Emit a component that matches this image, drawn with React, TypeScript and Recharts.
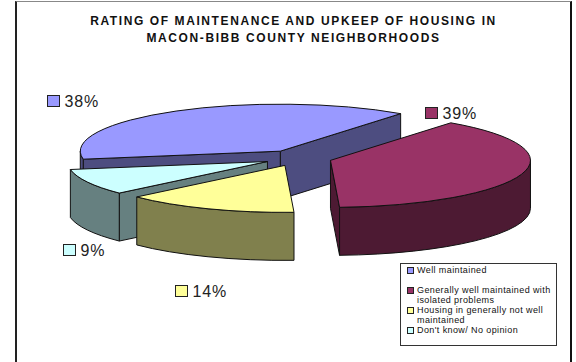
import React from 'react';
import { PieChart, Pie, Legend } from 'recharts';

// drawn back to front, so the pie runs counter-clockwise from the top-right cut
const drawOrder = ['Well maintained', "Don't know/ No opinion", 'Housing in generally not well maintained', 'Generally well maintained with isolated problems'];
const drawValues = [38, 9, 14, 39];

const legendNames = ['Well maintained', 'Generally well maintained with isolated problems', 'Housing in generally not well maintained', "Don't know/ No opinion"];

const topColors: Record<string, string> = {
  'Well maintained': '#9999ff',
  'Generally well maintained with isolated problems': '#993366',
  'Housing in generally not well maintained': '#ffff99',
  "Don't know/ No opinion": '#ccffff',
};
const sideColors: Record<string, string> = {
  'Well maintained': '#4d4d80',
  'Generally well maintained with isolated problems': '#4d1a33',
  'Housing in generally not well maintained': '#80804d',
  "Don't know/ No opinion": '#668080',
};
const labelSpots: Record<string, number[]> = {
  'Well maintained': [47.5, 95],
  'Generally well maintained with isolated problems': [425.5, 107],
  'Housing in generally not well maintained': [175.5, 285],
  "Don't know/ No opinion": [63.5, 244],
};

const FONT = '"Liberation Sans", Arial, sans-serif';
const SQUASH = 0.235;
const DEPTH = 48;
const EXPLODE = 0.17;

const Slice3D = (props: any) => {
  const { cx, cy, outerRadius: r, startAngle, endAngle, payload } = props;
  const a1 = Math.min(startAngle, endAngle);
  const a2 = Math.max(startAngle, endAngle);
  const ry = r * SQUASH;
  const mid = ((a1 + a2) / 2) * (Math.PI / 180);
  const ox = cx + r * EXPLODE * Math.cos(mid);
  const oy = cy - ry * EXPLODE * Math.sin(mid);
  const pt = (deg: number, drop = 0) => {
    const t = deg * (Math.PI / 180);
    return `${ox + r * Math.cos(t)} ${oy - ry * Math.sin(t) + drop}`;
  };
  const apex = (drop = 0) => `${ox} ${oy + drop}`;
  const arc = (from: number, to: number, sweep: number) =>
    `A ${r} ${ry} 0 ${Math.abs(to - from) > 180 ? 1 : 0} ${sweep} ${pt(to, sweep ? DEPTH : 0)}`;

  const side = sideColors[payload.name];
  const stroke = { stroke: '#111', strokeWidth: 1, strokeLinejoin: 'round' as const };
  const cos = (d: number) => Math.cos(d * (Math.PI / 180));

  // only the rim part that faces the viewer, 180..360 and once round again
  const rims = [[180, 360], [540, 720]]
    .map(([lo, hi]) => [Math.max(a1, lo), Math.min(a2, hi)])
    .filter(([s, e]) => e > s);

  return (
    <g>
      {cos(a1) > 0 && (
        <path d={`M ${apex()} L ${pt(a1)} L ${pt(a1, DEPTH)} L ${apex(DEPTH)} Z`} fill={side} {...stroke} />
      )}
      {cos(a2) < 0 && (
        <path d={`M ${apex()} L ${pt(a2)} L ${pt(a2, DEPTH)} L ${apex(DEPTH)} Z`} fill={side} {...stroke} />
      )}
      {rims.map(([s, e]) => (
        <path
          key={s}
          d={`M ${pt(s)} ${arc(s, e, 0)} L ${pt(e, DEPTH)} ${arc(e, s, 1)} Z`}
          fill={side}
          {...stroke}
        />
      ))}
      <path d={`M ${apex()} L ${pt(a1)} ${arc(a1, a2, 0)} Z`} fill={topColors[payload.name]} {...stroke} />
    </g>
  );
};

const SliceLabel = (props: any) => {
  const { name, value } = props;
  const [x, y] = labelSpots[name];
  return (
    <g>
      <rect x={x} y={y + 0.5} width={12} height={11} fill={topColors[name]} stroke="#222" />
      <text x={x + 17} y={y + 11.5} fontSize={16} letterSpacing={0.8} fontFamily={FONT} fill="#222">{`${value}%`}</text>
    </g>
  );
};

const LegendBox = () => (
  <div
    style={{
      width: 157,
      height: 83,
      boxSizing: 'border-box',
      border: '1px solid #333',
      background: '#fff',
      padding: '1px 0 0 6px',
      fontFamily: FONT,
      fontSize: 9,
      lineHeight: '10px',
      color: '#111',
      letterSpacing: 0.4,
      textAlign: 'left',
    }}
  >
    {legendNames.map((n, i) => (
      <div key={n} style={{ display: 'flex', alignItems: 'flex-start', marginBottom: i === 0 ? 10 : 0 }}>
        <span
          style={{
            width: 5,
            height: 5,
            flex: 'none',
            margin: '2px 3px 0 0',
            border: '1px solid #222',
            background: topColors[n],
          }}
        />
        <span style={{ width: 138 }}>{n}</span>
      </div>
    ))}
  </div>
);

export default function App() {
  const data = drawOrder.map((name, i) => ({ name, value: drawValues[i] }));
  return (
    <div style={{ position: 'absolute', left: 0, top: 0, width: 576, height: 362, background: '#fff', overflow: 'hidden' }}>
      <div
        style={{
          position: 'absolute',
          left: 15,
          top: 1,
          width: 557,
          height: 400,
          boxSizing: 'border-box',
          borderLeft: '2px solid #222',
          borderRight: '2px solid #111',
          borderTop: '1px solid #888',
        }}
      />
      <div
        style={{
          position: 'absolute',
          left: 15,
          width: 557,
          top: 12.5,
          textAlign: 'center',
          fontFamily: FONT,
          fontWeight: 'bold',
          fontSize: 12,
          lineHeight: '17px',
          letterSpacing: 1.6,
          color: '#111',
        }}
      >
        RATING OF MAINTENANCE AND UPKEEP OF HOUSING IN
        <br />
        MACON-BIBB COUNTY NEIGHBORHOODS
      </div>
      <PieChart
        width={576}
        height={362}
        margin={{ top: 0, right: 0, bottom: 0, left: 0 }}
        style={{ position: 'absolute', left: 0, top: 0 }}
      >
        <Pie
          data={data}
          dataKey="value"
          nameKey="name"
          cx={298}
          cy={158}
          outerRadius={200}
          startAngle={53}
          endAngle={413}
          stroke="none"
          shape={Slice3D}
          label={SliceLabel}
          labelLine={false}
          isAnimationActive={false}
        />
        <Legend
          layout="vertical"
          content={LegendBox}
          wrapperStyle={{ position: 'absolute', left: 400, top: 263, width: 157, height: 83 }}
        />
      </PieChart>
    </div>
  );
}
